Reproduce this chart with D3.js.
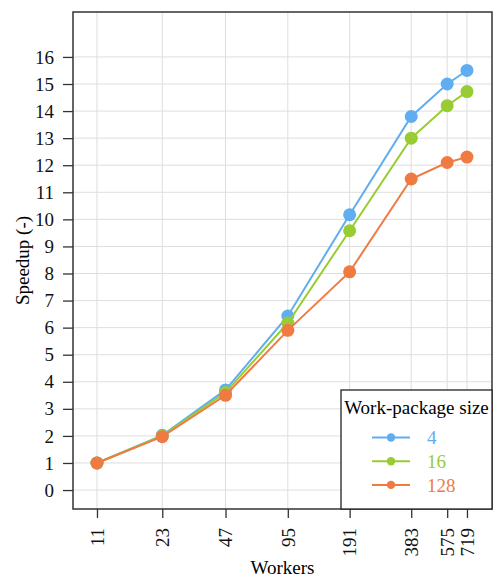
<!DOCTYPE html>
<html>
<head>
<meta charset="utf-8">
<script src="https://cdn.jsdelivr.net/npm/d3@7"></script>
<style>
  body { margin: 0; background: #fff; }
  svg text { font-family: "Liberation Serif", "DejaVu Serif", serif; }
</style>
</head>
<body>
<div id="root"></div>
<script>
const workers = [11, 23, 47, 95, 191, 383, 575, 719];
const sizes = ["4", "16", "128"];
const speedup4 = [1.0, 2.02, 3.7, 6.43, 10.17, 13.8, 15.0, 15.5];
const speedup16 = [1.0, 2.0, 3.6, 6.17, 9.58, 13.0, 14.2, 14.72];
const speedup128 = [1.0, 1.97, 3.5, 5.9, 8.06, 11.49, 12.1, 12.3];
const yTicks = d3.range(0, 17);
const colors = ["#60aef0", "#99cc33", "#ef7b43"];

const series = [speedup4, speedup16, speedup128].map(function(vals, i) {
  return {name: sizes[i], color: colors[i], values: vals.map(function(v, j) { return {w: workers[j], s: v}; })};
});

const fs = 19;

const svg = d3.select("#root")
  .append("svg")
  .attr("width", 498)
  .attr("height", 577);

const margin = {top: 12, right: 6, bottom: 68, left: 73};
const width = 492 - margin.left;
const height = 509 - margin.top;

const x = d3.scaleLog().domain([8.39, 954]).range([0, width]);
const y = d3.scaleLinear().domain([-0.7, 17.66]).range([height, 0]);

const g = svg.append("g")
  .attr("transform", "translate(" + margin.left + "," + margin.top + ")");

// grid
g.append("g")
  .selectAll("line")
  .data(yTicks)
  .enter().append("line")
    .attr("x1", 0).attr("x2", width)
    .attr("y1", function(d) { return y(d); })
    .attr("y2", function(d) { return y(d); })
    .attr("stroke", "#dedede").attr("stroke-width", 1);

g.append("g")
  .selectAll("line")
  .data(workers)
  .enter().append("line")
    .attr("y1", 0).attr("y2", height)
    .attr("x1", function(d) { return x(d); })
    .attr("x2", function(d) { return x(d); })
    .attr("stroke", "#dedede").attr("stroke-width", 1);

// axes
const yAxis = g.append("g")
  .call(d3.axisLeft(y).tickValues(yTicks).tickSize(10).tickPadding(9).tickFormat(d3.format("d")));

const xAxis = g.append("g")
  .attr("transform", "translate(0," + height + ")")
  .call(d3.axisBottom(x).tickValues(workers).tickSize(9).tickFormat(d3.format("d")));

xAxis.selectAll(".tick text")
  .attr("transform", "rotate(-90)")
  .attr("text-anchor", "end")
  .attr("x", -19)
  .attr("y", 0)
  .attr("dy", "0.33em");

[yAxis, xAxis].forEach(function(a) {
  a.attr("font-family", "'Liberation Serif', serif").attr("font-size", fs);
  a.select(".domain").remove();
  a.selectAll(".tick line").attr("stroke", "#333").attr("stroke-width", 1.3);
  a.selectAll(".tick text").attr("fill", "#111");
});

// lines + points
const line = d3.line()
  .x(function(d) { return x(d.w); })
  .y(function(d) { return y(d.s); });

const sg = g.selectAll(".series")
  .data(series)
  .enter().append("g")
    .attr("class", "series");

sg.append("path")
  .attr("d", function(d) { return line(d.values); })
  .attr("fill", "none")
  .attr("stroke", function(d) { return d.color; })
  .attr("stroke-width", 2);

sg.selectAll("circle")
  .data(function(d) { return d.values.map(function(v) { return {w: v.w, s: v.s, color: d.color}; }); })
  .enter().append("circle")
    .attr("cx", function(d) { return x(d.w); })
    .attr("cy", function(d) { return y(d.s); })
    .attr("r", 6.5)
    .attr("fill", function(d) { return d.color; });

// frame
g.append("rect")
  .attr("width", width).attr("height", height)
  .attr("fill", "none").attr("stroke", "#333").attr("stroke-width", 1.5);

// axis titles
svg.append("text")
  .attr("x", margin.left + width / 2)
  .attr("y", 574)
  .attr("text-anchor", "middle")
  .attr("font-size", fs)
  .text("Workers");

svg.append("text")
  .attr("transform", "translate(29," + (margin.top + height / 2) + ") rotate(-90)")
  .attr("text-anchor", "middle")
  .attr("font-size", fs)
  .text("Speedup (-)");

// legend
const lg = svg.append("g").attr("transform", "translate(341,390)");
lg.append("rect")
  .attr("width", 151).attr("height", 119)
  .attr("fill", "#fff").attr("stroke", "#222").attr("stroke-width", 1.3);
lg.append("text")
  .attr("x", 75.5).attr("y", 24)
  .attr("text-anchor", "middle")
  .attr("font-size", fs)
  .text("Work-package size");

const items = lg.selectAll(".item")
  .data(series)
  .enter().append("g")
    .attr("class", "item")
    .attr("transform", function(d, i) { return "translate(0," + (47.5 + i * 23.7) + ")"; });
items.append("line")
  .attr("x1", 31).attr("x2", 69)
  .attr("stroke", function(d) { return d.color; }).attr("stroke-width", 2);
items.append("circle")
  .attr("cx", 50).attr("r", 4.2)
  .attr("fill", function(d) { return d.color; });
items.append("text")
  .attr("x", 86).attr("dy", "0.35em")
  .attr("font-size", fs)
  .attr("fill", function(d) { return d.color; })
  .text(function(d) { return d.name; });
</script>
</body>
</html>
